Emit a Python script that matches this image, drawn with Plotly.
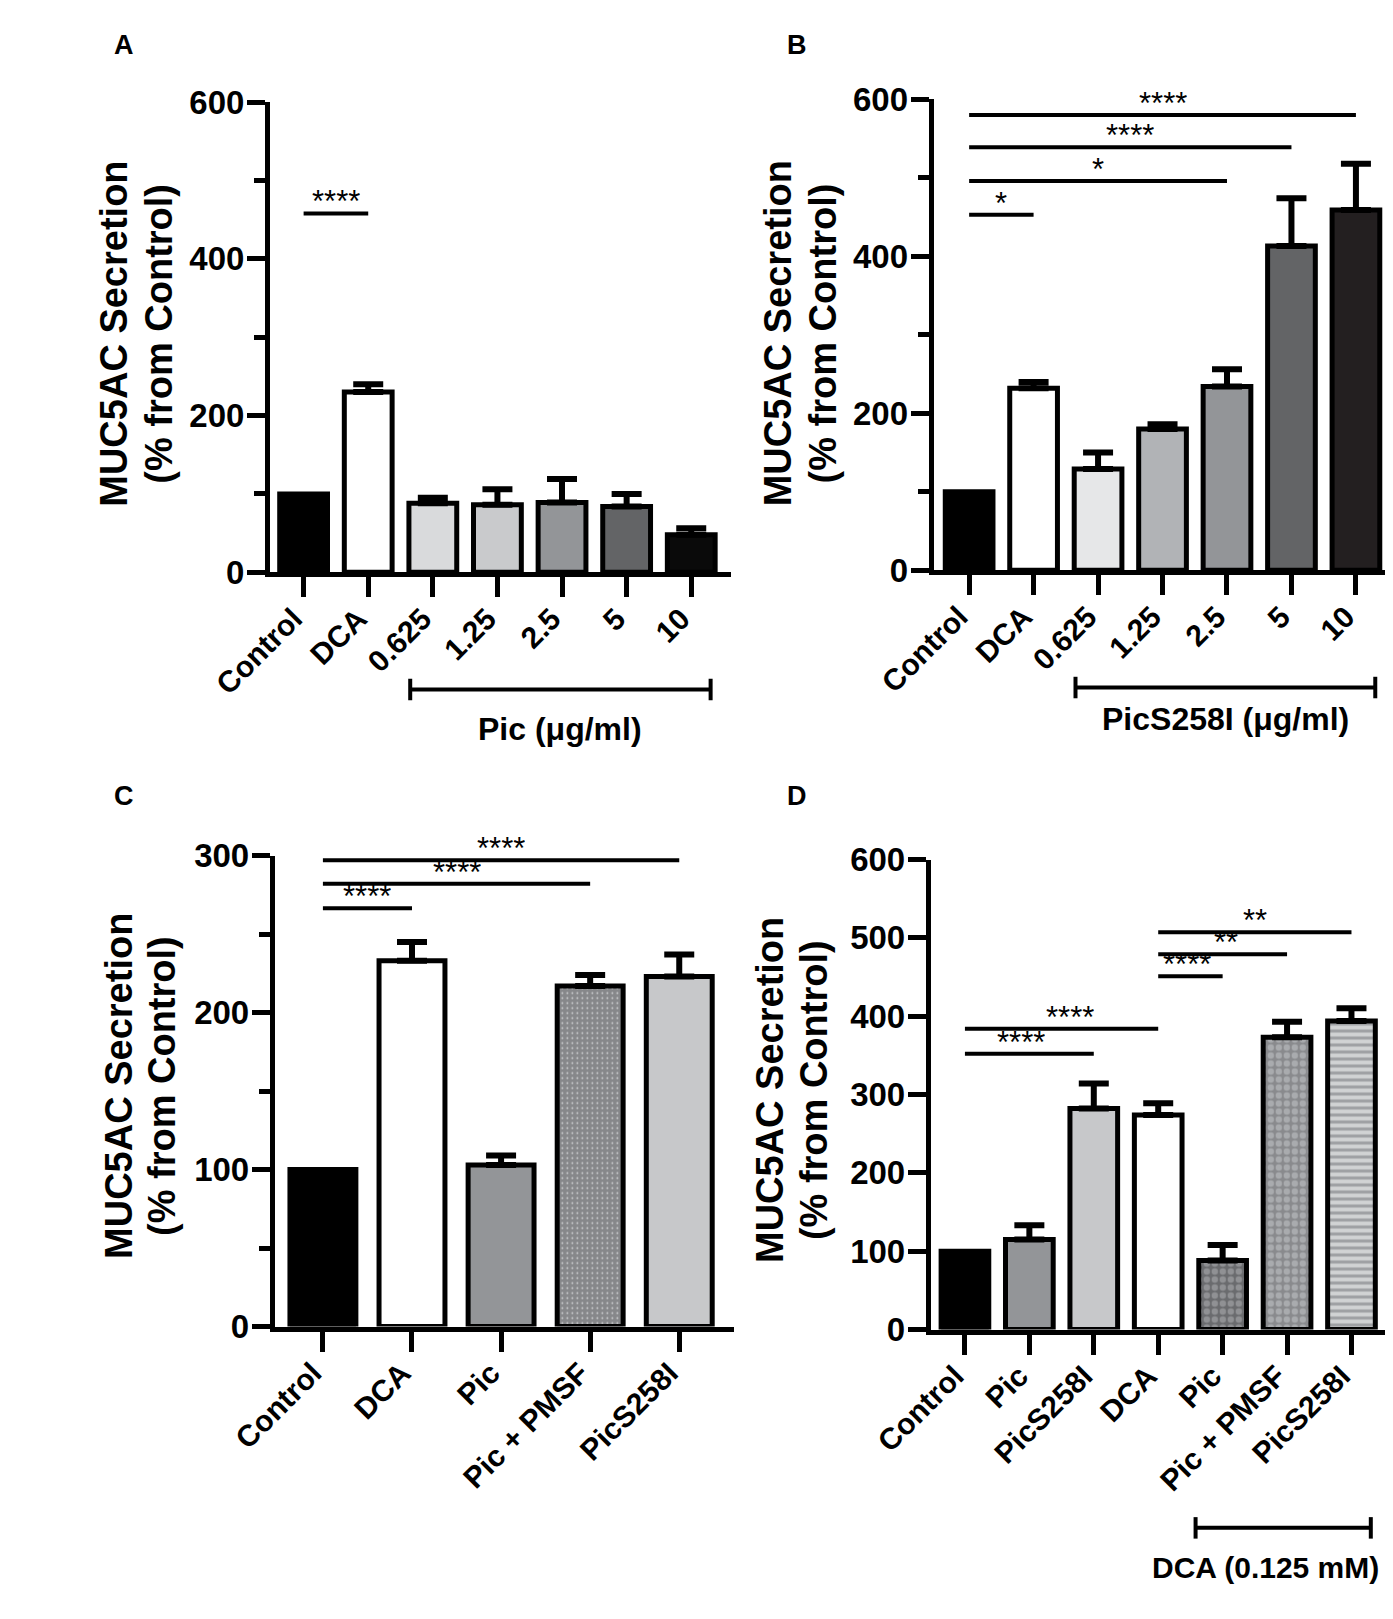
import plotly.graph_objects as go

W, H = 1393, 1619
FONT = "Liberation Sans"

# ---- data ----
a_labels = ["Control", "DCA", "0.625", "1.25", "2.5", "5", "10"]
a_mean = [100, 230, 88, 86, 89, 84, 48]
a_err = [None, 10, 7, 20, 30, 16, 8]
a_colors = ["#000000", "#ffffff", "#d9dadc", "#c9cacc", "#939598", "#636466", "#0a0a0a"]

b_labels = ["Control", "DCA", "0.625", "1.25", "2.5", "5", "10"]
b_mean = [100, 232, 129, 180, 234, 413, 459]
b_err = [None, 8, 21, 6, 22, 61, 59]
b_colors = ["#000000", "#ffffff", "#e6e7e8", "#b1b3b6", "#939598", "#636466", "#231f20"]

c_labels = ["Control", "DCA", "Pic", "Pic + PMSF", "PicS258I"]
c_mean = [100, 233, 103, 217, 223]
c_err = [None, 12, 6, 7, 14]
c_colors = ["#000000", "#ffffff", "#939598", "#86878a", "#c7c8ca"]
c_pattern = ["", "", "", "dots", ""]
c_pattern_fg = [None, None, None, "#d4d5d7", None]

d_labels = ["Control", "Pic", "PicS258I", "DCA", "Pic", "Pic + PMSF", "PicS258I"]
d_mean = [100, 115, 282, 274, 88, 373, 394]
d_err = [None, 18, 32, 15, 20, 20, 16]
d_colors = ["#000000", "#939598", "#c7c8ca", "#ffffff", "#6a6b6e", "#898a8d", "#d1d3d4"]
d_pattern = ["", "", "", "", "checker", "checker", "stripes"]
d_pattern_fg = [None, None, None, None, "#909194", "#a9abae", "#9fa1a4"]

# significance bars: (from, to, height, stars)
sig_a = [(0, 1, 458, "****")]
sig_b = [(0, 6, 580, "****"), (0, 5, 539, "****"), (0, 4, 496, "*"), (0, 1, 453, "*")]
sig_c = [(0, 4, 297, "****"), (0, 3, 282, "****"), (0, 1, 266.5, "****")]
sig_d = [(3, 6, 507, "**"), (3, 5, 479, "**"), (3, 4, 451, "****"),
         (0, 3, 384, "****"), (0, 2, 352, "****")]

ytitle = ["MUC5AC Secretion", "(% from Control)"]

# fill textures: plotly shape, size, solidity
TEXTURES = {
    "dots": (".", 5, 0.1),
    "checker": (".", 8, 0.5),
    "stripes": ("-", 7, 0.45),
}
# small sideways nudges (px) for star labels that sit close together
STAR_NUDGE = {("D", 0, 3): 8, ("D", 0, 2): -8, ("D", 3, 4): -3, ("D", 3, 5): 3}


def px(p):
    return p / W


def py(p):
    return 1 - p / H


fig = go.Figure()
shapes = []
annotations = []

panels = [
    dict(letter="A", labels=a_labels, mean=a_mean, err=a_err, colors=a_colors,
         pattern=None, fg=None, sig=sig_a, ymax=600, dtick=200, minor=100,
         xs=(212, 693), ys=(559, 78), xr=(-0.52, 6.61), tx=(49, 96), ty=315, lp=(59, 19)),
    dict(letter="B", labels=b_labels, mean=b_mean, err=b_err, colors=b_colors,
         pattern=None, fg=None, sig=sig_b, ymax=600, dtick=200, minor=100,
         xs=(905, 1387), ys=(557, 75), xr=(-0.55, 6.61), tx=(742, 789), ty=315, lp=(762, 19)),
    dict(letter="C", labels=c_labels, mean=c_mean, err=c_err, colors=c_colors,
         pattern=c_pattern, fg=c_pattern_fg, sig=sig_c, ymax=300, dtick=100, minor=50,
         xs=(217, 697), ys=(1331, 849), xr=(-0.54, 4.62), tx=(54, 99), ty=1085, lp=(59, 788)),
    dict(letter="D", labels=d_labels, mean=d_mean, err=d_err, colors=d_colors,
         pattern=d_pattern, fg=d_pattern_fg, sig=sig_d, ymax=600, dtick=100, minor=None,
         xs=(902, 1383), ys=(1334, 853), xr=(-0.53, 6.62), tx=(734, 780), ty=1089, lp=(762, 788)),
]

for i, p in enumerate(panels, start=1):
    n = len(p["labels"])
    xa = "x" if i == 1 else f"x{i}"
    ya = "y" if i == 1 else f"y{i}"
    for j in range(n):
        marker = dict(color=p["colors"][j], line=dict(color="black", width=5))
        if p["pattern"] and p["pattern"][j]:
            shp, size, sol = TEXTURES[p["pattern"][j]]
            marker["pattern"] = dict(shape=shp, size=size, solidity=sol, fillmode="replace",
                                     bgcolor=p["colors"][j], fgcolor=p["fg"][j], fgopacity=1)
        err = p["err"][j]
        fig.add_trace(go.Bar(
            x=[j], y=[p["mean"][j]], width=0.74, marker=marker,
            error_y=dict(type="data", symmetric=False, array=[err], arrayminus=[0],
                         color="black", thickness=6, width=15, visible=err is not None),
            xaxis=xa, yaxis=ya, showlegend=False, name=p["labels"][j],
        ))
    xfont = dict(family=FONT, size=30, color="black", weight="bold")
    yfont = dict(family=FONT, size=33, color="black", weight="bold")
    xkey = "xaxis" if i == 1 else f"xaxis{i}"
    ykey = "yaxis" if i == 1 else f"yaxis{i}"
    yminor = dict(dtick=p["minor"], ticks="outside", ticklen=11, tickwidth=5,
                  tickcolor="black") if p["minor"] else None
    fig.update_layout({
        xkey: dict(domain=[px(p["xs"][0]), px(p["xs"][1])], range=list(p["xr"]), anchor=ya,
                   showline=True, linewidth=5, linecolor="black", ticks="outside",
                   ticklen=20, tickwidth=5, tickcolor="black", tickvals=list(range(n)),
                   ticktext=p["labels"], tickangle=-45, tickfont=xfont,
                   ticklabelshift=-10, ticklabelstandoff=-8,
                   showgrid=False, zeroline=False),
        ykey: dict(domain=[py(p["ys"][0]), py(p["ys"][1])], range=[0, p["ymax"]], anchor=xa,
                   showline=True, linewidth=5, linecolor="black", ticks="outside",
                   ticklen=18, tickwidth=5, tickcolor="black", dtick=p["dtick"],
                   ticklabelstandoff=-4,
                   tickfont=yfont, showgrid=False, zeroline=False, minor=yminor),
    })
    # significance lines
    for x0, x1, yv, txt in p["sig"]:
        shapes.append(dict(type="line", xref=xa, yref=ya, x0=x0, x1=x1, y0=yv, y1=yv,
                           line=dict(color="black", width=4)))
        annotations.append(dict(xref=xa, yref=ya, x=(x0 + x1) / 2, y=yv, text=txt,
                                showarrow=False, yanchor="bottom", yshift=9,
                                xshift=STAR_NUDGE.get((p["letter"], x0, x1), 0),
                                height=18, valign="top",
                                font=dict(family=FONT, size=31, color="black")))
    # y title
    for k, line in enumerate(ytitle):
        annotations.append(dict(xref="paper", yref="paper", x=px(p["tx"][k]), y=py(p["ty"]),
                                text=line, textangle=-90, showarrow=False,
                                xanchor="center", yanchor="middle",
                                font=dict(family=FONT, size=38, color="black", weight="bold")))
    annotations.append(dict(xref="paper", yref="paper", x=px(p["lp"][0]), y=py(p["lp"][1]),
                            text=p["letter"], showarrow=False, xanchor="center", yanchor="middle",
                            font=dict(family=FONT, size=27, color="black", weight="bold")))

# dose brackets under the tick labels
brackets = [
    ("x", 1.65, 6.3, 679, 719, 0, 32, "Pic (μg/ml)"),
    ("x2", 1.65, 6.3, 677, 709, 0, 32, "PicS258I (μg/ml)"),
    ("x4", 3.58, 6.3, 1537, 1578, -18, 30, "DCA (0.125 mM)"),
]
for xa, x0, x1, yb, yl, dx, fs, txt in brackets:
    shapes.append(dict(type="line", xref=xa, yref="paper", x0=x0, x1=x1, y0=py(yb), y1=py(yb),
                       line=dict(color="black", width=4)))
    for xe in (x0, x1):
        shapes.append(dict(type="line", xref=xa, yref="paper", x0=xe, x1=xe,
                           y0=py(yb - 11), y1=py(yb + 11), line=dict(color="black", width=4)))
    annotations.append(dict(xref=xa, yref="paper", x=(x0 + x1) / 2, y=py(yl), text=txt,
                            showarrow=False, xanchor="center", yanchor="middle", xshift=dx,
                            font=dict(family=FONT, size=fs, color="black", weight="bold")))

fig.update_layout(
    width=W, height=H, autosize=False,
    margin=dict(l=0, r=0, t=0, b=0),
    paper_bgcolor="white", plot_bgcolor="white",
    shapes=shapes, annotations=annotations,
    barmode="overlay",
)

fig.write_html("out.html")
